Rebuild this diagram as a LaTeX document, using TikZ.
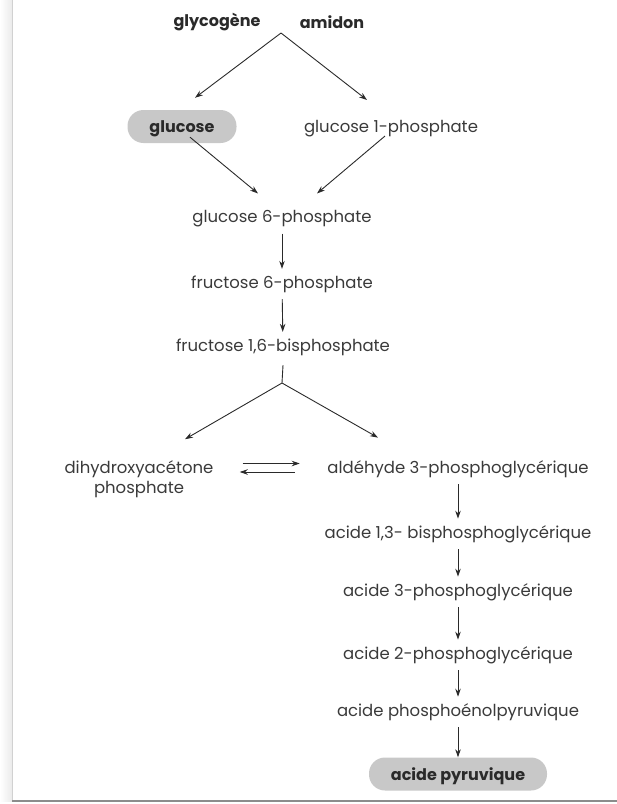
\documentclass[tikz,border=0pt]{standalone}
\usepackage{fontspec}
\setmainfont{Poppins}
\usetikzlibrary{arrows.meta,calc}
\definecolor{txt}{HTML}{3A3A3A}
\definecolor{ink}{HTML}{2A2A2A}
\definecolor{pillgray}{HTML}{C8C8C8}
\tikzset{
  lbl/.style={text=txt,font=\fontsize{16.5}{19}\selectfont,inner sep=6.5pt,align=center},
  bold/.style={text=ink,font=\fontsize{16}{19}\selectfont\bfseries,inner sep=4pt},
  pill/.style={bold,fill=pillgray,rounded corners=16pt,minimum height=33pt,text depth=0pt},
  arr/.style={draw=ink,line width=0.9pt,-{Stealth[length=8pt,width=5.5pt]}},
  ln/.style={draw=ink,line width=0.9pt}
}
\begin{document}
\begin{tikzpicture}[x=1pt,y=-1pt]
\useasboundingbox (0,0) rectangle (617,804);
% frame
\shade[left color=white,right color=black!8] (0,0) rectangle (12,801);
\draw[black!18,line width=1pt] (12,0) -- (12,801);
\draw[black!45,line width=2.2pt] (12,801) -- (617,801);
% nodes
\node[bold] (gly) at (217,22) {glycogène};
\node[bold] (ami) at (332,22) {amidon};
\coordinate (apex) at (281,33);
\node[pill,minimum width=109pt] (glc) at (182,126.5) {glucose};
\node[lbl] (g1p) at (391,129) {glucose 1-phosphate};
\node[lbl] (g6p) at (282,218.5) {glucose 6-phosphate};
\node[lbl] (f6p) at (282,284) {fructose 6-phosphate};
\node[lbl] (f16) at (283,347) {fructose 1,6-bisphosphate};
\coordinate (fork) at (282,383);
\node[lbl,inner sep=2pt,font=\fontsize{16.5}{20}\selectfont] (dhap) at (139,479) {dihydroxyacétone\\phosphate};
\node[lbl] (ald) at (458,469) {aldéhyde 3-phosphoglycérique};
\node[lbl] (bpg) at (458,534) {acide 1,3- bisphosphoglycérique};
\node[lbl] (pg3) at (458,592) {acide 3-phosphoglycérique};
\node[lbl] (pg2) at (458,655) {acide 2-phosphoglycérique};
\node[lbl] (pep) at (458,712) {acide phosphoénolpyruvique};
\node[pill,minimum width=178pt] (pyr) at (458,774) {acide pyruvique};
% connectors
\draw[arr] (apex) -- ($(glc.north)+(13,-12)$);
\draw[arr] (apex) -- ($(g1p.north)+(-24,-14)$);
\draw[arr] ($(glc.south)+(8,-6)$) -- ($(g6p.north)+(-24,-10)$);
\draw[arr] ($(g1p.south)+(-6,-8)$) -- ($(g6p.north)+(35,-10)$);
\draw[arr] (g6p) -- (f6p);
\draw[arr] (f6p) -- (f16);
\draw[ln] (f16.south) ++(0,3) -- (fork);
\draw[arr] (fork) -- ($(dhap.north)+(46,-19)$);
\draw[arr] (fork) -- ($(ald.north)+(-80,-16)$);
\draw[arr] ($(ald.west)+(-78,-5.5)$) -- ($(ald.west)+(-21,-5.5)$);
\draw[arr] ($(ald.west)+(-26,3)$) -- ($(ald.west)+(-81,3)$);
\draw[arr] (ald) -- (bpg);
\draw[arr] (bpg) -- (pg3);
\draw[arr] (pg3) -- (pg2);
\draw[arr] (pg2) -- (pep);
\draw[arr] (pep) -- (pyr);
\end{tikzpicture}
\end{document}
